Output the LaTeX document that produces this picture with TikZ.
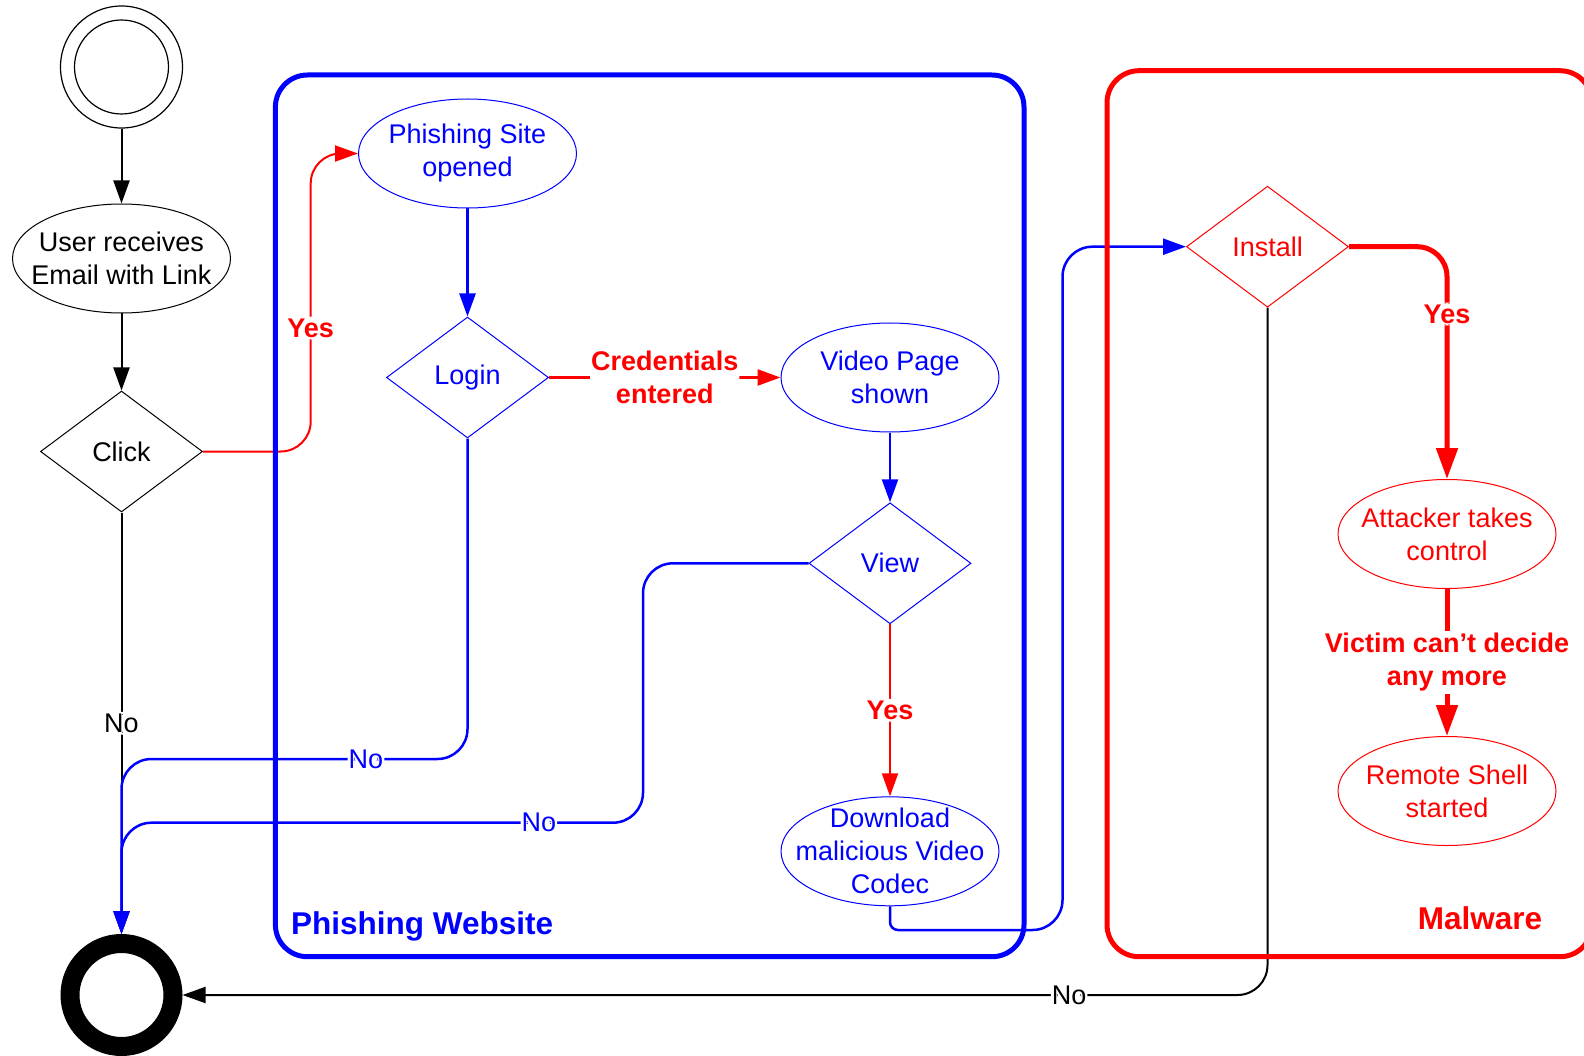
\documentclass[tikz,border=0pt]{standalone}
\usepackage{fontspec}
\setmainfont{Liberation Sans}
\usetikzlibrary{shapes.geometric,arrows.meta}
\definecolor{myblue}{RGB}{0,0,255}
\definecolor{myred}{RGB}{255,0,0}
\pgfdeclarelayer{conn}
\pgfdeclarelayer{frames}
\pgfsetlayers{conn,frames,main}
\begin{document}
\begin{tikzpicture}[x=1pt,y=-1pt,
  txt/.style={font=\fontsize{27}{33}\selectfont, align=center},
  ell/.style={txt, ellipse, draw, line width=1pt, inner xsep=-35pt, inner ysep=-25pt, minimum width=218pt, minimum height=109pt, fill=white},
  dia/.style={txt, diamond, draw, line width=1pt, inner sep=0pt, minimum width=162pt, minimum height=121pt, fill=white},
  bl/.style={draw=myblue, text=myblue},
  rd/.style={draw=myred, text=myred},
  tip/.style={-{Triangle[length=23pt,width=16pt]}},
  bigtip/.style={-{Triangle[length=31pt,width=21pt]}},
  con/.style={line width=2pt, rounded corners=30pt, tip},
  lbl/.style={font=\fontsize{27}{33}\selectfont, fill=white, inner xsep=1pt, inner ysep=2pt, align=center},
  blbl/.style={lbl, font=\fontsize{27}{33}\selectfont\bfseries},
  frame/.style={line width=5pt, rounded corners=32pt},
  ttl/.style={font=\fontsize{31.5}{36}\selectfont\bfseries, inner sep=0pt}
]
\useasboundingbox (0,0) rectangle (1584,1056);

% nodes
\node[circle, draw, line width=1.2pt, minimum size=122pt, inner sep=0pt] (start) at (121.5,67) {};
\draw[line width=1.2pt] (start.center) circle[radius=47pt];
\node[ell] (user) at (121.5,258.5) {User receives\\Email with Link};
\node[dia] (click) at (121.5,451.5) {Click};
\node[ell,bl] (phish) at (467.5,153.5) {Phishing Site\\opened};
\node[dia,bl] (login) at (467.5,377.5) {Login};
\node[ell,bl] (video) at (890,377.5) {Video Page\\shown};
\node[dia,bl] (view) at (890,563.3) {View};
\node[ell,bl] (dl) at (890,851.3) {Download\\malicious Video\\Codec};
\node[dia,rd] (inst) at (1267.5,246.7) {Install};
\node[ell,rd] (att) at (1447,534) {Attacker takes\\control};
\node[ell,rd] (rem) at (1447,791) {Remote Shell\\started};
\node[circle, draw, line width=19pt, minimum size=103pt, inner sep=0pt, outer sep=9.5pt] (end) at (121.5,995) {};

\begin{pgfonlayer}{conn}
\draw[con] (start) -- (user);
\draw[con] (user) -- (click);
\draw[con] (click.south) -- node[lbl]{No} (end.north);
\draw[con,myred] (click.east) -| (310.7,328) node[blbl]{Yes} |- (phish.west);
\draw[con,myblue,line width=2.5pt] (phish) -- (login);
\draw[con,myred,line width=2.5pt] (login.east) -- node[blbl]{Credentials\\entered} (video.west);
\draw[con,myblue,line width=2.5pt] (login.south) |- (366,759) node[lbl]{No} -| (end.north);
\draw[con,myblue,line width=2.5pt] (video) -- (view);
\draw[con,myblue,line width=2.5pt] (view.west) -| (643,822.7) -- (538.8,822.7) node[lbl]{No} -| (end.north);
\draw[con,myred] (view.south) -- node[blbl]{Yes} (dl.north);
\draw[con,myblue,line width=2.5pt] (dl.south) [rounded corners=8pt] |- (960,930) [rounded corners=30pt] -| (1062.5,500) |- (inst.west);
\draw[con,myred,line width=5pt,bigtip] (inst.east) -| (1447,314) node[blbl]{Yes} -- (att.north);
\draw[myred,line width=5pt,bigtip] (att.south) -- node[blbl]{Victim can’t decide\\any more} (rem.north);
\draw[con] (inst.south) |- (1069,995) node[lbl]{No} -- (end.east);
\end{pgfonlayer}

\begin{pgfonlayer}{frames}
\draw[frame,myblue] (275.4,75) rectangle (1024,956.7);
\draw[frame,myred] (1107,70.7) rectangle (1592,956.7);
\end{pgfonlayer}
\node[ttl,text=myblue,anchor=west] (pw) at (291,926.5) {Phishing Website};
\node[ttl,text=myred] (mw) at (1480,918) {Malware};
\end{tikzpicture}
\end{document}
